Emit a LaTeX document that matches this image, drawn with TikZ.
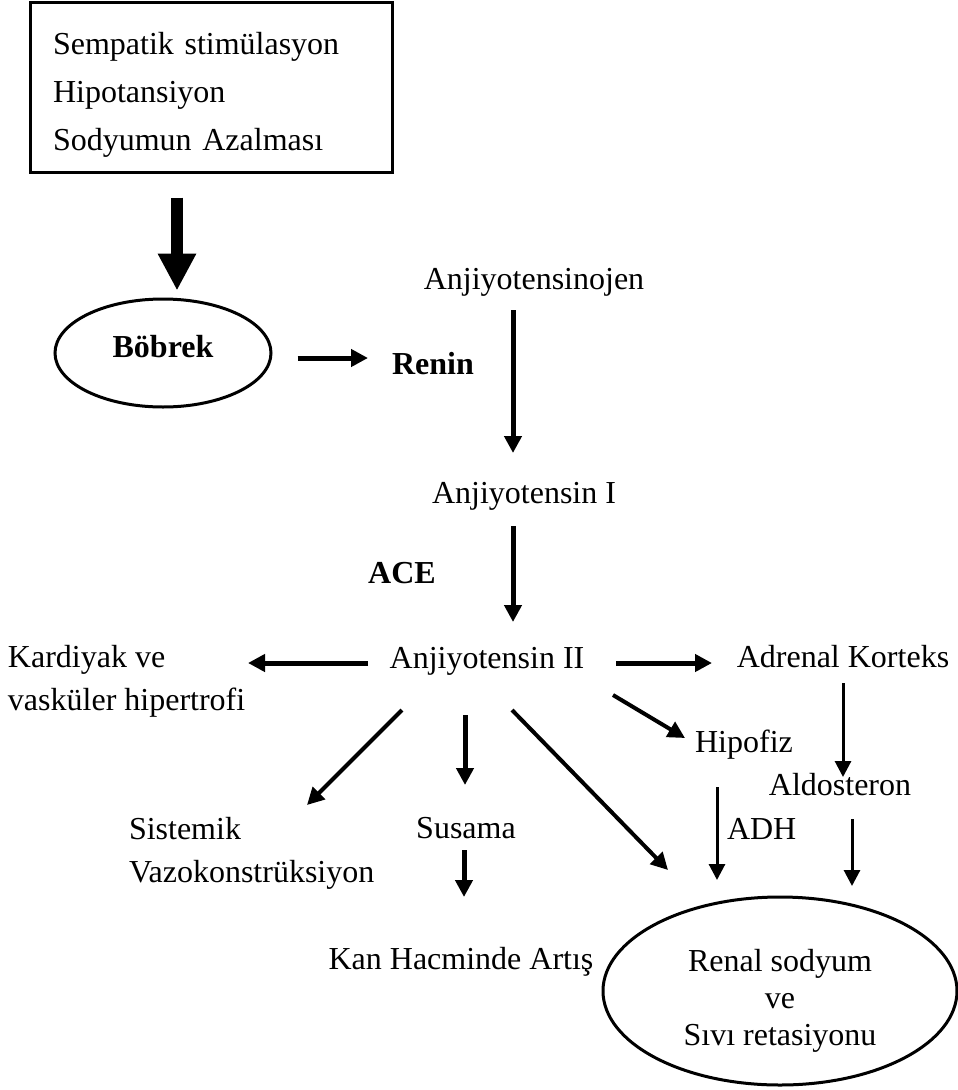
\documentclass[tikz,border=0pt]{standalone}
\usepackage{fontspec}
\setmainfont{Liberation Serif}
\usetikzlibrary{arrows.meta,shapes.geometric,calc}
\tikzset{
  lbl/.style={inner sep=0pt, outer sep=0pt, anchor=base, font=\fontsize{32}{40}\selectfont},
  lblw/.style={inner sep=0pt, outer sep=0pt, anchor=base west, align=left, font=\fontsize{32}{43}\selectfont},
  arrmain/.style={line width=5pt, -{Triangle[length=17pt,width=17pt]}},
  arrdiag/.style={line width=4pt, -{Triangle[length=17pt,width=17pt]}},
  arrthin/.style={line width=3pt, -{Triangle[length=16pt,width=16pt]}},
  arrbig/.style={line width=12pt, -{Triangle[length=37pt,width=36pt]}},
}
\begin{document}
\begin{tikzpicture}[x=1pt,y=-1pt]
\useasboundingbox (0,0) rectangle (958,1090);
% nodes
\node[draw, line width=3pt, rectangle, minimum width=362pt, minimum height=170pt,
      text width=316pt, align=left, inner sep=0pt, font=\fontsize{32}{48}\selectfont]
      (box) at (211,87) {\rule{0pt}{38pt}Sempatik stimülasyon\\Hipotansiyon\\Sodyumun Azalması};
\node[draw, line width=3pt, ellipse, minimum width=216pt, minimum height=108pt, inner sep=0pt,
      text height=22pt, text depth=14pt, font=\fontsize{32}{40}\selectfont\bfseries]
      (bob) at (163,353) {Böbrek};
\node[lbl, font=\fontsize{32}{40}\selectfont\bfseries] (renin) at (433,374) {Renin};
\node[lbl] (anjo) at (534,289) {Anjiyotensinojen};
\node[lbl] (anj1) at (524,503) {Anjiyotensin I};
\node[lbl, font=\fontsize{32}{40}\selectfont\bfseries] (ace) at (402,583) {ACE};
\node[lbl] (anj2) at (487,668) {Anjiyotensin II};
\node[lblw] (kard) at (8,710) {Kardiyak ve\\vasküler hipertrofi};
\node[lbl] (adr) at (843,667) {Adrenal Korteks};
\node[lbl] (hip) at (744,752) {Hipofiz};
\node[lbl] (aldo) at (840,795) {Aldosteron};
\node[lblw] (adh) at (727,839) {ADH};
\node[lbl] (sus) at (466,838) {Susama};
\node[lblw] (sist) at (129,882) {Sistemik\\Vazokonstrüksiyon};
\node[lbl] (kan) at (461,969) {Kan Hacminde Artış};
\node[draw, line width=3pt, ellipse, minimum width=354pt, minimum height=188pt, inner sep=0pt,
      align=center, font=\fontsize{32}{37}\selectfont]
      (renal) at (780,991) {\rule{0pt}{42pt}Renal sodyum\\ve\\Sıvı retasiyonu};
% connectors
\draw[arrbig] ($(box.south)+(-34,24)$) -- ($(bob.north)+(14,-7)$);
\draw[arrmain] ($(bob.east)+(25,5)$) -- ($(renin.base)+(-65,-16)$);
\draw[arrmain] ($(anjo.base)+(-21,21)$) -- ($(anj1.base)+(-11,-50)$);
\draw[arrmain] ($(anj1.base)+(-11,23)$) -- ($(anj2.base)+(26,-46)$);
\draw[arrmain] ($(anj2.base)+(-119,-5)$) -- ($(kard.base west)+(240,-47)$);
\draw[arrmain] ($(anj2.base)+(129,-5)$) -- ($(adr.base)+(-131,-4)$);
\draw[arrthin] ($(adr.base)+(0,16)$) -- ($(aldo.base)+(3,-18)$);
\draw[arrdiag] ($(anj2.base)+(126,27)$) -- ($(hip.base)+(-59,-14)$);
\draw[arrthin] ($(hip.base)+(-27,35)$) -- ($(renal.center)+(-63,-111)$);
\draw[arrthin] ($(aldo.base)+(12,24)$) -- ($(renal.center)+(72,-105)$);
\draw[arrdiag] ($(anj2.base)+(25,42)$) -- ($(renal.center)+(-112,-121)$);
\draw[arrmain] ($(anj2.base)+(-22,47)$) -- ($(sus.base)+(-1,-53)$);
\draw[arrmain] ($(sus.base)+(-2,12)$) -- ($(kan.base)+(3,-72)$);
\draw[arrdiag] ($(anj2.base)+(-85,42)$) -- ($(sist.base west)+(178,-77)$);
\end{tikzpicture}
\end{document}
